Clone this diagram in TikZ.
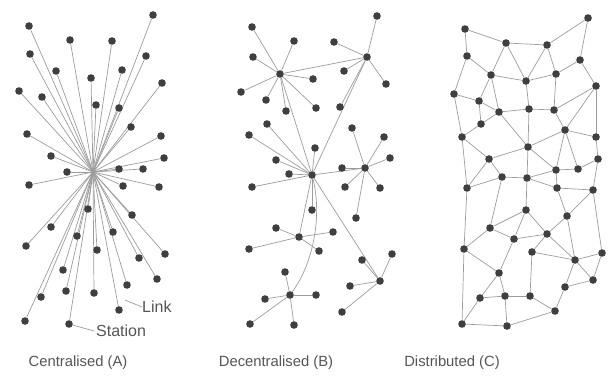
\documentclass[tikz,border=0pt]{standalone}
\usepackage{fontspec}
\setmainfont{Liberation Sans}
\usetikzlibrary{backgrounds}
\definecolor{dotc}{HTML}{3F3F3F}
\definecolor{linkc}{HTML}{9C9C9C}
\definecolor{txtc}{HTML}{555555}
\begin{document}
\begin{tikzpicture}[x=1pt,y=-1pt,
 dot/.style={circle,fill=dotc,inner sep=0pt,minimum size=7.6pt},
 link/.style={draw=linkc,line width=0.7pt},
 leader/.style={draw=linkc,line width=0.7pt},
 caption/.style={text=txtc,font=\fontsize{14.8}{16}\selectfont,inner sep=0pt},
 tag/.style={text=txtc,font=\fontsize{16}{18}\selectfont,inner sep=0pt,anchor=west}]
\useasboundingbox (0,0) rectangle (609,380);

% ---------- Centralised (A)
\coordinate (ac) at (93,172);
\foreach \x/\y [count=\i] in {153/15,29/26,70/40,112/41,30/54,146/56,56/71,122/70,91/78,19/91,42/97,162/83,96/105,119/108,131/127,27/134,161/136,51/156,164/158,119/169,143/169,67/172,29/185,123/186,159/187,88/209,132/215,51/227,77/236,113/232,26/246,97/250,165/254,139/258,63/270,157/279,127/285,66/291,41/297,94/293,119/310,25/321,69/324}
  \node[dot] (a\i) at (\x,\y) {};
\begin{scope}[on background layer]
\foreach \i in {1,...,43} \draw[link] (ac) -- (a\i);
\end{scope}
\coordinate (lk) at (125,300);
\node[tag] (linkt) at (142,307) {Link};
\draw[leader] (lk) -- (linkt.west);
\node[tag] (stat) at (96,331) {Station};
\draw[leader] (a43) -- ([xshift=-2pt]stat.west);

% ---------- Decentralised (B)
\foreach \n/\x/\y in {h1/280/74,h2/367/57,h3/312/175,h4/365/168,h5/299/237,h6/290/295,h7/380/281}
  \node[dot] (\n) at (\x,\y) {};
\foreach \n/\x/\y in {
 p1/252/27,p2/294/41,p3/253/57,p4/241/92,p5/266/100,p6/286/111,p7/313/79,p8/316/108,
 q1/377/16,q2/334/42,q3/344/71,q4/386/84,q5/340/107,
 r1/267/124,r2/249/135,r3/315/148,r4/276/160,r5/289/174,r6/252/187,r7/312/210,
 s1/352/128,s2/384/137,s3/390/158,s4/342/168,s5/345/187,s6/380/188,s7/356/218,
 t1/276/228,t2/333/232,t3/319/251,t4/249/249,
 u1/285/272,u2/316/295,u3/265/299,u4/250/324,u5/294/325,
 v1/392/254,v2/362/260,v3/350/286,v4/342/312}
  \node[dot] (\n) at (\x,\y) {};
\begin{scope}[on background layer]
\foreach \a/\b in {h1/p1,h1/p2,h1/p3,h1/p4,h1/p5,h1/p6,h1/p7,h1/p8,
 h2/q1,h2/q2,h2/q3,h2/q4,h2/q5,
 h3/r1,h3/r2,h3/r3,h3/r4,h3/r5,h3/r6,h3/r7,
 h4/s1,h4/s2,h4/s3,h4/s4,h4/s5,h4/s6,h4/s7,
 h5/t1,h5/t2,h5/t3,h5/t4,
 h6/u1,h6/u2,h6/u3,h6/u4,h6/u5,
 h7/v1,h7/v2,h7/v3,h7/v4,
 h1/h2,h1/h3,h2/h3,h3/h4,h3/h5,h3/h7}
  \draw[link] (\a) -- (\b);
\draw[link] (h3) .. controls (322,215) and (314,262) .. (h6);
\end{scope}

% ---------- Distributed (C)
\foreach \n/\x/\y in {
 c1/465/29,c2/506/43,c3/547/45,c4/588/18,c5/467/56,c6/580/60,c7/491/75,c8/526/81,
 c9/556/74,c10/596/86,c11/454/94,c12/479/101,c13/499/112,c14/529/109,c15/554/110,
 c16/481/124,c17/565/130,c18/462/137,c19/596/137,c20/528/147,c21/598/159,c22/489/159,
 c23/556/170,c24/578/169,
 d1/502/177,d2/527/178,d3/467/188,d4/557/188,d5/593/190,d6/526/210,d7/567/216,
 d8/490/228,d9/514/239,d10/547/234,d11/464/249,d12/532/252,d13/602/253,d14/575/260,
 d15/499/273,d16/593/280,d17/565/287,d18/480/298,d19/505/296,d20/530/296,d21/555/311,
 d22/462/324,d23/507/326}
  \node[dot] (\n) at (\x,\y) {};
\begin{scope}[on background layer]
\foreach \a/\b in {c1/c2,c2/c3,c3/c4,c1/c5,c4/c6,c2/c7,c2/c8,c3/c8,c3/c9,c5/c7,c5/c11,
 c6/c9,c6/c10,c7/c8,c8/c9,c7/c12,c7/c13,c11/c12,c12/c13,c13/c14,c14/c15,c8/c14,c9/c15,
 c10/c15,c10/c17,c10/c19,c15/c17,c12/c16,c13/c16,c16/c18,c11/c18,c13/c20,c14/c20,
 c17/c20,c17/c19,c17/c23,c17/c24,c19/c21,c18/c22,c20/c22,c20/c23,c21/c24,c23/c24,
 c22/d1,c22/d3,c18/d3,d1/d2,d1/d3,c20/d2,d2/c23,d2/d4,c23/d4,d4/d5,c21/d5,d1/d8,d2/d6,
 d4/d7,d5/d7,d5/d13,d3/d11,d6/d8,d6/d9,d6/d10,d7/d10,d7/d14,d8/d11,d8/d9,d9/d10,
 d10/d12,d9/d15,d10/d14,d12/d14,d12/d20,d13/d14,d13/d16,d14/d16,d14/d17,d11/d15,
 d11/d22,d15/d18,d15/d19,d18/d19,d19/d20,d20/d21,d17/d21,d16/d17,d18/d22,d22/d23,
 d19/d23,d21/d23}
  \draw[link] (\a) -- (\b);
\end{scope}

% ---------- captions
\node[caption] (capA) at (78,363) {Centralised (A)};
\node[caption] (capB) at (276,363) {Decentralised (B)};
\node[caption] (capC) at (452,363) {Distributed (C)};
\end{tikzpicture}
\end{document}
